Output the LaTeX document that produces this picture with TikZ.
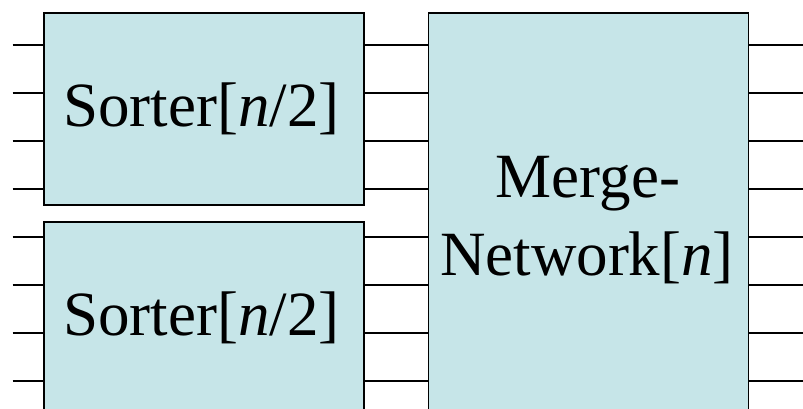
\documentclass[tikz,border=0pt]{standalone}
\usepackage{fontspec}
\setmainfont{Liberation Serif}
\definecolor{boxfill}{RGB}{198,229,232}
\begin{document}
\begin{tikzpicture}[x=1pt,y=-1pt,
  blk/.style={draw=black,fill=boxfill,line width=1.6pt,rectangle,inner sep=0pt},
  wire/.style={draw=black,line width=1.5pt},
  lbl/.style={inner sep=0pt,anchor=base,font=\fontsize{63}{76}\selectfont}]
\useasboundingbox (0,0) rectangle (803,409);
\clip (0,0) rectangle (803,409);
% boxes
\node[blk,minimum width=320pt,minimum height=191.7pt] (s1) at (204,109.15) {};
\node[blk,minimum width=320pt,minimum height=190pt] (s2) at (204,316.7) {};
\node[blk,minimum width=320pt,minimum height=405pt] (m) at (588.3,215.8) {};
% labels
\node[lbl] (t1) at (201.5,126.7) {Sorter[\textit{n}/2]};
\node[lbl] (t2) at (201.5,335) {Sorter[\textit{n}/2]};
\node[lbl] (t3) at (588,197.3) {Merge-};
\node[lbl] (t4) at (587,275) {Network[\textit{n}]};
% wires
\foreach \i/\y/\s in {1/45/s1,2/93/s1,3/141/s1,4/189/s1,5/237/s2,6/285/s2,7/333/s2,8/381/s2}{
  \coordinate (in\i) at (12.7,\y);
  \coordinate (out\i) at (803,\y);
  \draw[wire] (in\i) -- (in\i -| \s.west);
  \draw[wire] (in\i -| \s.east) -- (in\i -| m.west);
  \draw[wire] (in\i -| m.east) -- (out\i);
}
\end{tikzpicture}
\end{document}
